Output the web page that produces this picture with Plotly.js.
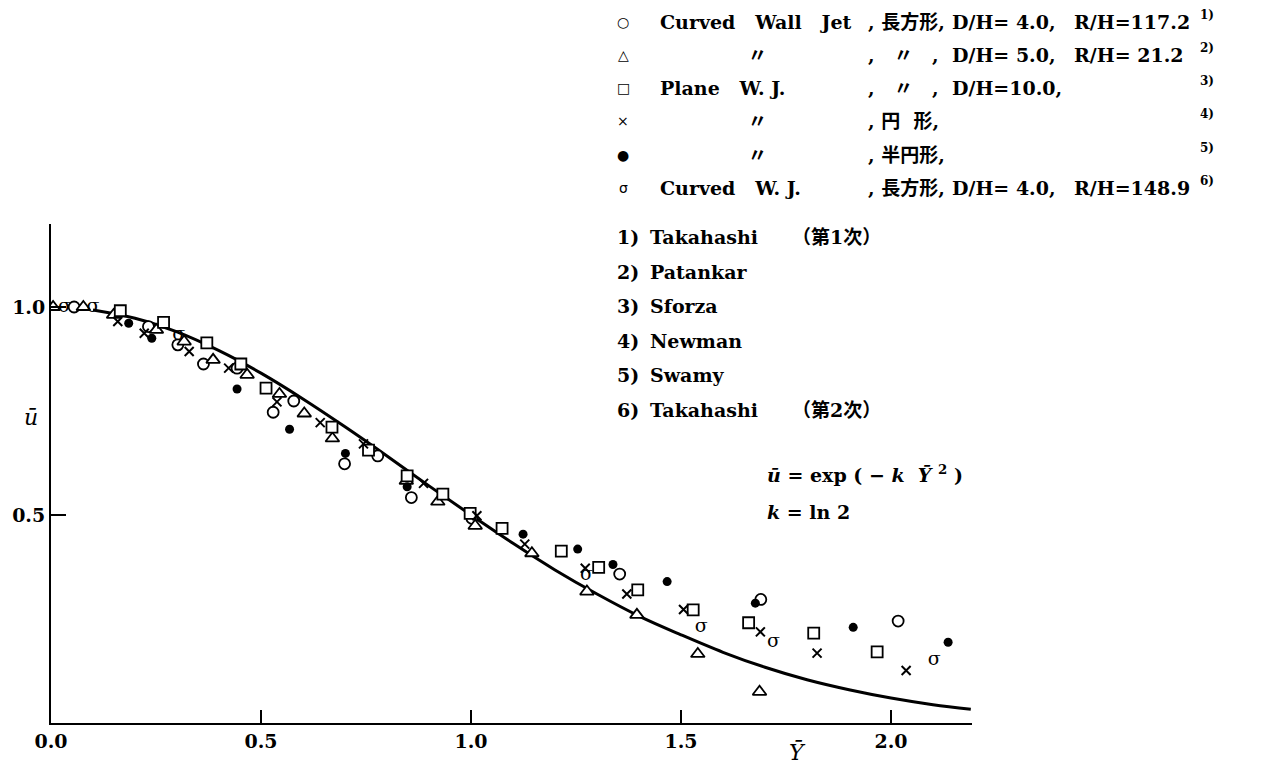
<!DOCTYPE html>
<html>
<head>
<meta charset="utf-8">
<script src="https://cdn.plot.ly/plotly-3.0.1.min.js"></script>
<style>html,body{margin:0;padding:0;background:#fff;}</style>
</head>
<body>
<div id="chart" style="width:1273px;height:765px;"></div>
<script>
// ---- data ----
// ○ Curved Wall Jet, Takahashi (1st)
const circY = [0.055,0.232,0.302,0.363,0.443,0.529,0.578,0.699,0.778,0.858,1.002,1.354,1.690,2.017];
const circU = [1.000,0.953,0.909,0.863,0.853,0.747,0.774,0.623,0.642,0.542,0.492,0.358,0.297,0.245];
// △ Patankar
const triY = [0.005,0.077,0.149,0.251,0.317,0.386,0.467,0.544,0.603,0.670,0.846,0.921,1.010,1.145,1.276,1.395,1.540,1.687];
const triU = [1.000,1.000,0.981,0.945,0.917,0.873,0.837,0.791,0.744,0.684,0.582,0.532,0.474,0.408,0.316,0.260,0.166,0.075];
// □ Sforza
const sqY = [0.165,0.268,0.371,0.452,0.512,0.669,0.756,0.848,0.933,0.998,1.074,1.215,1.304,1.397,1.529,1.661,1.816,1.967];
const sqU = [0.991,0.963,0.914,0.863,0.805,0.711,0.656,0.594,0.550,0.504,0.468,0.413,0.374,0.320,0.272,0.241,0.216,0.171];
// × Newman
const crossY = [0.159,0.222,0.329,0.423,0.538,0.641,0.744,0.887,1.014,1.128,1.272,1.371,1.506,1.689,1.824,2.036];
const crossU = [0.965,0.937,0.893,0.853,0.772,0.722,0.671,0.576,0.498,0.430,0.372,0.310,0.273,0.219,0.168,0.126];
// ● Swamy
const dotY = [0.185,0.240,0.443,0.568,0.701,0.848,1.124,1.254,1.338,1.467,1.677,1.910,2.136];
const dotU = [0.961,0.925,0.803,0.706,0.648,0.568,0.454,0.418,0.381,0.340,0.288,0.230,0.194];
// σ Takahashi (2nd)
const sigY = [0.032,0.100,0.304,1.275,1.548,1.720,2.103];
const sigU = [1.000,1.000,0.933,0.356,0.229,0.193,0.151];
// solid curve u = exp(-k Y^2)
const curveY = [0.10,0.20,0.30,0.40,0.50,0.60,0.70,0.80,0.90,1.00,1.10,1.20,1.30,1.40,1.50,1.60,1.70,1.80,1.90,2.00,2.10,2.19];
const curveU = [0.993,0.973,0.940,0.895,0.841,0.779,0.712,0.642,0.570,0.500,0.432,0.368,0.310,0.257,0.212,0.170,0.134,0.104,0.080,0.060,0.044,0.033];
// ticks
const xTickVals = [0, 0.5, 1.0, 1.5, 2.0];
const xTickText = ['0.0', '0.5', '1.0', '1.5', '2.0'];
const yTickVals = [0.5, 1.0];
const yTickText = ['0.5', '1.0'];
// legend text
const legSymbols = ['○', '△', '□', '×', '●', 'σ'];
const refNums = ['1)', '2)', '3)', '4)', '5)', '6)'];
const refNames = ['Takahashi', 'Patankar', 'Sforza', 'Newman', 'Swamy', 'Takahashi'];
const refNotes = ['（第1次）', '', '', '', '', '（第2次）'];

// ---- layout geometry ----
const W = 1273, H = 765, L = 51, R = 301, T = 224, B = 42;
const PW = W - L - R, PH = H - T - B;
const px = v => (v - L) / PW;
const py = v => (H - B - v) / PH;
const SERIF = '"DejaVu Serif", "Noto Sans CJK JP", serif';
const txtFont = {family: SERIF, size: 19, color: '#000', weight: 'bold'};

function ann(text, x, y, xanchor, font) {
  return {text: text, xref: 'paper', yref: 'paper', x: px(x), y: py(y),
          xanchor: xanchor || 'left', yanchor: 'middle', showarrow: false,
          font: Object.assign({}, txtFont, font || {})};
}

const annotations = [];
const rowY = [22, 55, 88, 121, 155, 188];
legSymbols.forEach((s, i) => annotations.push(ann(s, 623, rowY[i], 'center', {size: 14, family: 'DejaVu Sans', weight: 'normal'})));
const C_B = 658, C_DIT = 757, C_COMMA = 866, C_DIT2 = 903, C_COMMA2 = 930, C_D = 950, C_R = 1072, C_SUP = 1198;
// row 1
annotations.push(ann('Curved   Wall   Jet', C_B, rowY[0]));
annotations.push(ann(', 長方形,', C_COMMA, rowY[0]));
annotations.push(ann('D/H= 4.0,', C_D, rowY[0]));
annotations.push(ann('R/H=117.2', C_R, rowY[0]));
// row 2
annotations.push(ann('〃', C_DIT, rowY[1], 'center'));
annotations.push(ann(',', C_COMMA, rowY[1]));
annotations.push(ann('〃', C_DIT2, rowY[1], 'center'));
annotations.push(ann(',', C_COMMA2, rowY[1]));
annotations.push(ann('D/H= 5.0,', C_D, rowY[1]));
annotations.push(ann('R/H= 21.2', C_R, rowY[1]));
// row 3
annotations.push(ann('Plane   W. J.', C_B, rowY[2]));
annotations.push(ann(',', C_COMMA, rowY[2]));
annotations.push(ann('〃', C_DIT2, rowY[2], 'center'));
annotations.push(ann(',', C_COMMA2, rowY[2]));
annotations.push(ann('D/H=10.0,', C_D, rowY[2]));
// row 4
annotations.push(ann('〃', C_DIT, rowY[3], 'center'));
annotations.push(ann(', 円  形,', C_COMMA, rowY[3]));
// row 5
annotations.push(ann('〃', C_DIT, rowY[4], 'center'));
annotations.push(ann(', 半円形,', C_COMMA, rowY[4]));
// row 6
annotations.push(ann('Curved   W. J.', C_B, rowY[5]));
annotations.push(ann(', 長方形,', C_COMMA, rowY[5]));
annotations.push(ann('D/H= 4.0,', C_D, rowY[5]));
annotations.push(ann('R/H=148.9', C_R, rowY[5]));
// reference superscripts
refNums.forEach((s, i) => annotations.push(ann(s, C_SUP, rowY[i] - 7, 'left', {size: 12})));
// reference list
refNames.forEach((s, i) => {
  const y = 237 + 34.6 * i;
  annotations.push(ann(refNums[i], 615, y));
  annotations.push(ann(s, 648, y));
  if (refNotes[i]) annotations.push(ann(refNotes[i], 790, y));
});
// formula
annotations.push(ann('<i>ū</i> = exp ( − <i>k</i>  <i>Ȳ</i> <sup>2</sup> )', 765, 474));
annotations.push(ann('<i>k</i> = ln 2', 765, 512));
// axis titles
annotations.push(ann('<i>ū</i>', 31, 417, 'center', {size: 22, weight: 'normal'}));
annotations.push(ann('<i>Ȳ</i>', 797, 752, 'center', {size: 22, weight: 'normal'}));

const openMarker = (sym, size) => ({symbol: sym, size: size, color: '#fff', line: {color: '#000', width: 1.8}});

const traces = [
  {x: curveY, y: curveU, mode: 'lines', line: {color: '#000', width: 3, shape: 'spline'}, hoverinfo: 'skip'},
  {x: circY, y: circU, mode: 'markers', marker: openMarker('circle', 11)},
  {x: triY, y: triU, mode: 'markers', marker: openMarker('triangle-up', 12)},
  {x: sqY, y: sqU, mode: 'markers', marker: openMarker('square', 11)},
  {x: crossY, y: crossU, mode: 'markers', marker: {symbol: 'x-thin-open', size: 9, color: '#000', line: {color: '#000', width: 2}}},
  {x: dotY, y: dotU, mode: 'markers', marker: {symbol: 'circle', size: 9, color: '#000'}},
  {x: sigY, y: sigU, mode: 'text', text: sigY.map(() => 'σ'), textposition: 'middle center',
   textfont: {family: 'DejaVu Serif', size: 19, color: '#000'}}
];

const tickFont = {family: '"DejaVu Serif", serif', size: 19, color: '#000', weight: 'bold'};
const layout = {
  width: W, height: H, autosize: false,
  margin: {l: L, r: R, t: T, b: B, pad: 0},
  paper_bgcolor: '#fff', plot_bgcolor: '#fff',
  showlegend: false,
  xaxis: {range: [0, PW / 420], showgrid: false, zeroline: false, showline: true,
          linecolor: '#000', linewidth: 2, ticks: 'inside', ticklen: 13, tickwidth: 2, tickcolor: '#000',
          tickvals: xTickVals, ticktext: xTickText, tickfont: tickFont},
  yaxis: {range: [0, PH / 416], showgrid: false, zeroline: false, showline: true,
          linecolor: '#000', linewidth: 2, ticks: 'inside', ticklen: 15, tickwidth: 2, tickcolor: '#000',
          tickvals: yTickVals, ticktext: yTickText, tickfont: tickFont},
  annotations: annotations
};

Plotly.newPlot('chart', traces, layout, {displayModeBar: false, staticPlot: true});
</script>
</body>
</html>
